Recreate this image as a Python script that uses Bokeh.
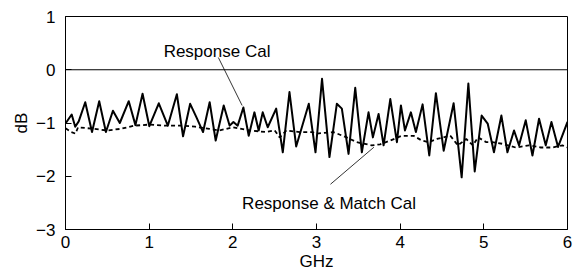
from bokeh.plotting import figure
from bokeh.models import FixedTicker, Span, Label
from bokeh.embed import file_html
from bokeh.resources import INLINE

# ---- data ----
resp_x = [0.000, 0.074, 0.116, 0.158, 0.236, 0.317, 0.403, 0.483, 0.567, 0.649,
          0.756, 0.836, 0.921, 1.002, 1.115, 1.223, 1.331, 1.405, 1.490, 1.564,
          1.644, 1.723, 1.795, 1.891, 1.962, 2.007, 2.058, 2.126, 2.190, 2.258,
          2.309, 2.357, 2.417, 2.518, 2.597, 2.677, 2.757, 2.908, 2.988, 3.066,
          3.155, 3.243, 3.303, 3.383, 3.463, 3.542, 3.622, 3.674, 3.742, 3.802,
          3.882, 3.961, 4.009, 4.057, 4.128, 4.188, 4.268, 4.348, 4.427, 4.520,
          4.639, 4.735, 4.815, 4.891, 4.974, 5.046, 5.121, 5.210, 5.282, 5.361,
          5.421, 5.501, 5.581, 5.660, 5.740, 5.808, 5.887, 6.000]
resp_y = [-1.01, -0.84, -1.07, -0.97, -0.61, -1.17, -0.59, -1.17, -0.77, -1.00,
          -0.59, -1.04, -0.45, -1.06, -0.63, -1.05, -0.46, -1.25, -0.64, -0.89,
          -1.17, -0.61, -1.33, -0.67, -1.05, -0.98, -1.05, -0.71, -1.24, -0.80,
          -1.14, -0.80, -1.08, -0.73, -1.55, -0.42, -1.44, -0.64, -1.55, -0.17,
          -1.64, -0.64, -0.73, -1.58, -0.34, -1.55, -0.80, -1.27, -0.83, -1.42,
          -0.55, -1.36, -0.67, -1.14, -0.80, -1.17, -0.65, -1.61, -0.44, -1.52,
          -0.63, -2.02, -0.26, -1.91, -0.86, -1.01, -1.55, -0.86, -1.55, -1.14,
          -1.42, -0.95, -1.61, -0.92, -1.42, -0.98, -1.45, -0.98]

match_x = [0.00, 0.07, 0.12, 0.15, 0.34, 0.50, 0.66, 0.82, 1.00, 1.20, 1.40,
           1.55, 1.72, 1.84, 2.00, 2.20, 2.40, 2.50, 2.56, 2.64, 2.80, 2.95,
           3.00, 3.20, 3.36, 3.48, 3.66, 3.76, 3.88, 4.02, 4.16, 4.26, 4.34,
           4.44, 4.60, 4.69, 4.79, 4.87, 4.93, 5.03, 5.10, 5.22, 5.38, 5.54,
           5.68, 5.82, 5.94, 6.00]
match_y = [-1.10, -1.17, -1.20, -1.08, -1.11, -1.14, -1.11, -1.05, -1.03, -1.05, -1.05,
           -1.07, -1.11, -1.14, -1.08, -1.14, -1.17, -1.14, -1.27, -1.14, -1.17, -1.17,
           -1.20, -1.17, -1.27, -1.36, -1.42, -1.40, -1.33, -1.24, -1.24, -1.33, -1.36,
           -1.30, -1.24, -1.42, -1.30, -1.42, -1.27, -1.36, -1.36, -1.39, -1.46, -1.42,
           -1.46, -1.46, -1.42, -1.46]

x_ticks = [0, 1, 2, 3, 4, 5, 6]
x_tick_labels = ["0", "1", "2", "3", "4", "5", "6"]
y_ticks = [-3, -2, -1, 0, 1]
y_tick_labels = ["\u22123", "\u22122", "\u22121", "0", "1"]

FONT = "Liberation Sans"
FS = "17px"

p = figure(width=577, height=279, x_range=(0, 6), y_range=(-3, 1),
           output_backend="svg", toolbar_location=None,
           min_border_left=65, min_border_right=10, min_border_top=16, min_border_bottom=50)
p.grid.visible = False
p.outline_line_color = "black"
p.outline_line_width = 1
p.background_fill_color = "white"
p.border_fill_color = "white"

p.xaxis.ticker = FixedTicker(ticks=x_ticks)
p.xaxis.major_label_overrides = dict(zip(x_ticks, x_tick_labels))
p.yaxis.ticker = FixedTicker(ticks=y_ticks)
p.yaxis.major_label_overrides = dict(zip(y_ticks, y_tick_labels))

for ax in (p.xaxis[0], p.yaxis[0]):
    ax.major_tick_in = 6
    ax.major_tick_out = 0
    ax.minor_tick_line_color = None
    ax.axis_line_color = "black"
    ax.major_tick_line_color = "black"
    ax.major_label_text_font = FONT
    ax.major_label_text_font_size = FS
    ax.major_label_text_color = "black"
    ax.axis_label_text_font = FONT
    ax.axis_label_text_font_size = FS
    ax.axis_label_text_font_style = "normal"
    ax.axis_label_text_color = "black"

p.xaxis.axis_label = "GHz"
p.xaxis.major_label_standoff = 6
p.xaxis.axis_label_standoff = 1
p.yaxis.axis_label = "dB"
p.yaxis.major_label_standoff = 10
p.yaxis.axis_label_standoff = 2

p.add_layout(Span(location=0, dimension="width", line_color="black", line_width=1))

p.line(match_x, match_y, line_color="black", line_width=1.8, line_dash="4 3")
p.line(resp_x, resp_y, line_color="black", line_width=2, line_join="round")

# leader lines
p.line([1.827, 2.111], [0.23, -0.671], line_color="black", line_width=0.8)
p.line([3.167, 3.686], [-2.15, -1.455], line_color="black", line_width=0.8)

p.add_layout(Label(x=1.173, y=0.337, text="Response Cal", text_font=FONT,
                   text_font_size=FS, text_baseline="alphabetic", text_align="left",
                   text_color="black"))
p.add_layout(Label(x=2.111, y=-2.517, text="Response & Match Cal", text_font=FONT,
                   text_font_size=FS, text_baseline="alphabetic", text_align="left",
                   text_color="black"))

open("out.html", "w").write(file_html(p, INLINE))
